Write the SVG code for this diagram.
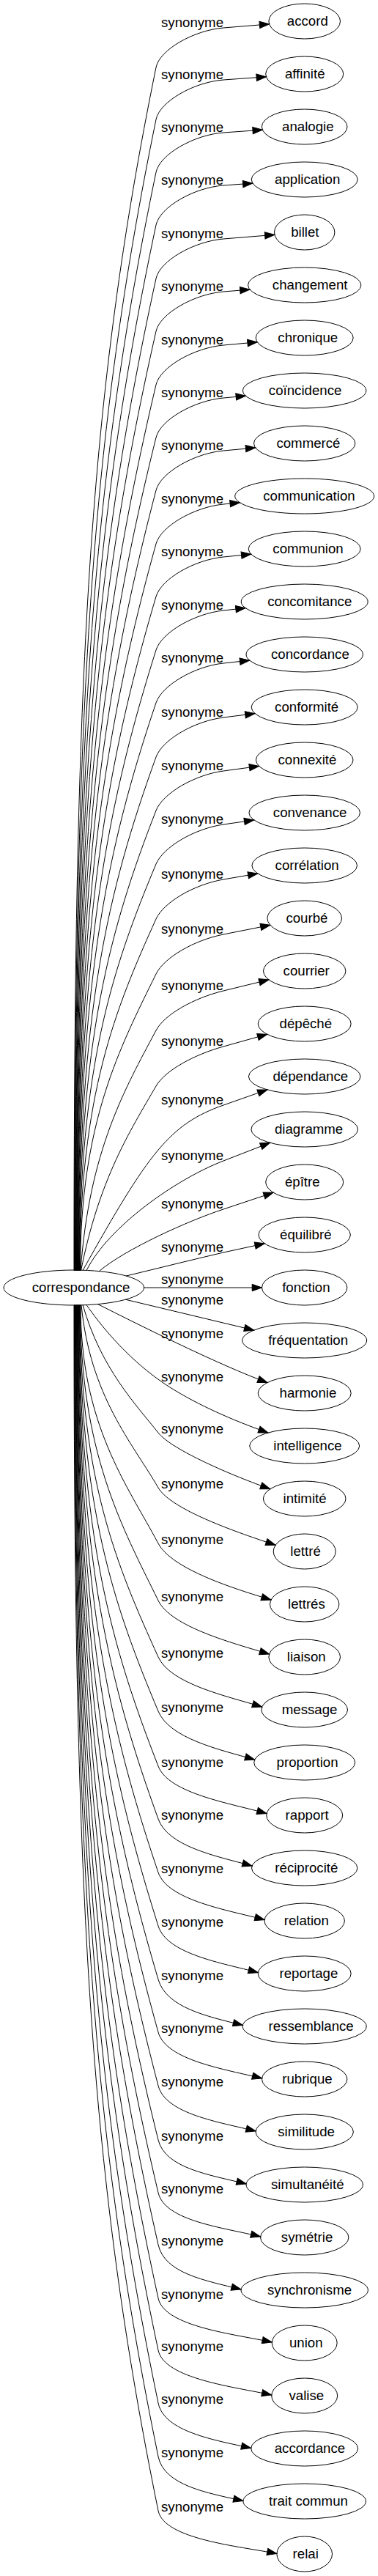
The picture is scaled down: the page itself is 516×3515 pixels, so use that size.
<svg xmlns="http://www.w3.org/2000/svg" width="516" height="3515" viewBox="0 0 516 3515">
<style>
text{font-family:"Liberation Sans",Arial,Helvetica,sans-serif;font-size:18.67px;fill:#000}
.e path{fill:none;stroke:#000;stroke-width:1;marker-end:url(#ah)}
.n ellipse{fill:none;stroke:#000;stroke-width:1}
</style>
<defs>
<marker id="ah" markerUnits="userSpaceOnUse" markerWidth="16" markerHeight="12" refX="13.3" refY="4.67" orient="auto" overflow="visible">
<path d="M0,0 L13.3,4.67 L0,9.33 Z" fill="#000" stroke="#000" stroke-width="1"/>
</marker>
</defs>
<rect x="0" y="0" width="516" height="3515" fill="#fff"/>
<g id="edges" class="e">
<g id="e-accord"><path d="M101,1734 C101,913 121,542.6 213,92 C218,67.5 265,41.3 305,38 L367.6,32.9"/><text x="220" y="37">synonyme</text></g>
<g id="e-affinite"><path d="M101.5,1734 C101.5,948.5 124.7,593.9 213,163 C218,138.5 265,111.9 305,109 L363.4,104.8"/><text x="220" y="108">synonyme</text></g>
<g id="e-analogie"><path d="M102,1734 C102,984.5 127.7,645.9 213,235 C218.1,210.5 265,183.9 305,181 L358.3,177.2"/><text x="220" y="180">synonyme</text></g>
<g id="e-application"><path d="M102.5,1734 C102.5,1020.5 130.1,697.9 213,307 C218.2,282.5 265,255.9 305,253 L344.9,250.1"/><text x="220" y="252">synonyme</text></g>
<g id="e-billet"><path d="M103,1734 C103,1057 132.1,750.4 213,380 C218.3,355.6 265,329.3 305,326 L374.9,320.3"/><text x="220" y="325">synonyme</text></g>
<g id="e-changement"><path d="M103.5,1734 C103.5,1093 133.7,802.1 213,452 C218.5,427.6 265,401.3 305,398 L341,395.1"/><text x="220" y="397">synonyme</text></g>
<g id="e-chronique"><path d="M104,1734 C104,1129.5 135.2,854.4 213,525 C218.7,500.7 265,474.6 305,471 L351.2,466.8"/><text x="220" y="470">synonyme</text></g>
<g id="e-coincidence"><path d="M104.5,1734 C104.5,1165.5 136.4,906 213,597 C219,572.7 265,546.6 305,543 L335.4,540.2"/><text x="220" y="542">synonyme</text></g>
<g id="e-commerce"><path d="M105,1734 C105,1201.5 137.5,957.5 213,669 C219.3,644.8 265,618.6 305,615 L348.7,611"/><text x="220" y="614">synonyme</text></g>
<g id="e-communication"><path d="M105.5,1734 C105.5,1238 138.7,1009.7 213,742 C219.7,717.9 265,692 305,688 L327.3,685.8"/><text x="220" y="687">synonyme</text></g>
<g id="e-communion"><path d="M106,1734 C106,1274 140.1,1061.1 213,814 C220.1,790 265,764 305,760 L342.8,756.2"/><text x="220" y="759">synonyme</text></g>
<g id="e-concomitance"><path d="M106.5,1734 C106.5,1310.5 141.7,1113.2 213,887 C220.5,863.2 265,837.3 305,833 L335.1,829.7"/><text x="220" y="832">synonyme</text></g>
<g id="e-concordance"><path d="M107,1734 C107,1346.5 143.6,1164.6 213,959 C221,935.3 265,909.3 305,905 L340.7,901.1"/><text x="220" y="904">synonyme</text></g>
<g id="e-conformite"><path d="M107.5,1734 C107.5,1383.5 146.2,1217.6 213,1033 C221.5,1009.5 265,984.1 305,979 L348,973.6"/><text x="220" y="978">synonyme</text></g>
<g id="e-connexite"><path d="M108,1734 C108,1420 149.2,1269.8 213,1106 C222.1,1082.7 265,1057.4 305,1052 L353.6,1045.4"/><text x="220" y="1051">synonyme</text></g>
<g id="e-convenance"><path d="M108.5,1734 C108.5,1456.5 152.9,1322.3 213,1179 C222.7,1156 265,1130.8 305,1125 L346.7,1119"/><text x="220" y="1124">synonyme</text></g>
<g id="e-correlation"><path d="M109,1734 C109,1494 157.5,1376.4 213,1254 C223.3,1231.2 265,1206.9 305,1200 L351.8,1192"/><text x="220" y="1199">synonyme</text></g>
<g id="e-courbe"><path d="M109.5,1734 C109.5,1531.5 163.1,1430.8 213,1329 C224,1306.6 265,1282.9 305,1275 L368.9,1262.3"/><text x="220" y="1274">synonyme</text></g>
<g id="e-courrier"><path d="M110,1734 C122,1570 169.9,1487.1 213,1406 C224.7,1383.9 265,1361.8 305,1352 L366.9,1336.9"/><text x="220" y="1351">synonyme</text></g>
<g id="e-depeche"><path d="M110.5,1734 C135.5,1608 177.7,1543.1 213,1482 C225.5,1460.4 265,1439.2 305,1428 L364.7,1411.3"/><text x="220" y="1427">synonyme</text></g>
<g id="e-dependance"><path d="M113,1733.5 C203,1572.6 231.6,1533.8 305,1508 L364.9,1486.9"/><text x="220" y="1507">synonyme</text></g>
<g id="e-diagramme"><path d="M118,1733.7 C148,1673.7 239.8,1609.3 305,1584 L368.6,1559.3"/><text x="220" y="1583">synonyme</text></g>
<g id="e-epitre"><path d="M135,1734.9 C170,1704.9 257.5,1665.5 305,1650 L373.1,1627.3"/><text x="220" y="1649">synonyme</text></g>
<g id="e-equilibre"><path d="M172,1741.1 C216,1730.5 262,1719 305,1709 L361.2,1696.8"/><text x="220" y="1708">synonyme</text></g>
<g id="e-fonction"><path d="M196.7,1757 L357.5,1757"/><text x="220" y="1752">synonyme</text></g>
<g id="e-frequentation"><path d="M171.7,1773.3 L346.7,1815.1"/><text x="220" y="1780">synonyme</text></g>
<g id="e-harmonie"><path d="M133,1779.3 C190,1808 300,1863 365,1886.6"/><text x="220" y="1826">synonyme</text></g>
<g id="e-intelligence"><path d="M118,1780.5 C135,1805 170,1850 220,1885 C250,1906 300,1932 366,1955"/><text x="220" y="1885">synonyme</text></g>
<g id="e-intimite"><path d="M113,1780.5 C138,1867.8 185.7,1916.6 216,1955 C234.6,1978.6 318.8,2014.2 368.8,2031.7"/><text x="220" y="1956">synonyme</text></g>
<g id="e-lettre"><path d="M111,1780.5 C123,1905.3 181.1,1969.5 216,2030 C233.5,2060.3 326.1,2091.8 376.1,2108.3"/><text x="220" y="2031">synonyme</text></g>
<g id="e-lettres"><path d="M110,1780.5 C110,1943.3 173.2,2025.5 216,2106 C234.8,2141.3 320,2168 370,2183"/><text x="220" y="2107">synonyme</text></g>
<g id="e-liaison"><path d="M109.5,1780.5 C109.5,1982.3 166.3,2082.5 216,2184 C233.6,2219.9 317.6,2242 367.6,2257"/><text x="220" y="2185">synonyme</text></g>
<g id="e-message"><path d="M109,1780.5 C109,2020.8 160.5,2138.5 216,2261 C232.5,2297.4 307.7,2314 357.7,2329"/><text x="220" y="2262">synonyme</text></g>
<g id="e-proportion"><path d="M108.5,1780.5 C108.5,2057.8 155.9,2191.8 216,2335 C231.5,2371.9 297.7,2387 347.7,2401"/><text x="220" y="2336">synonyme</text></g>
<g id="e-rapport"><path d="M108,1780.5 C108,2095.3 152,2245.7 216,2410 C230.5,2447.3 314,2460.5 364,2474.5"/><text x="220" y="2411">synonyme</text></g>
<g id="e-reciprocite"><path d="M107.5,1780.5 C107.5,2131.3 149.1,2297.3 216,2482 C229.6,2519.6 294.1,2532.5 344.1,2546"/><text x="220" y="2483">synonyme</text></g>
<g id="e-relation"><path d="M107,1780.5 C107,2167.8 146.7,2349.5 216,2555 C228.8,2592.9 311.1,2606.5 361.1,2619.5"/><text x="220" y="2556">synonyme</text></g>
<g id="e-reportage"><path d="M106.5,1780.5 C106.5,2204.3 144.7,2401.7 216,2628 C228,2666.2 302.3,2678.5 352.3,2691.5"/><text x="220" y="2629">synonyme</text></g>
<g id="e-ressemblance"><path d="M106,1780.5 C106,2240.8 143,2453.8 216,2701 C227.3,2739.4 281.4,2751 331.4,2763.5"/><text x="220" y="2702">synonyme</text></g>
<g id="e-rubrique"><path d="M105.5,1780.5 C105.5,2276.8 141.7,2505.2 216,2773 C226.7,2811.5 307.6,2823.5 357.6,2836"/><text x="220" y="2774">synonyme</text></g>
<g id="e-similitude"><path d="M105,1780.5 C105,2313.3 140.5,2557.4 216,2846 C226.1,2884.7 299.1,2895.5 349.1,2908"/><text x="220" y="2847">synonyme</text></g>
<g id="e-simultaneite"><path d="M104.5,1780.5 C104.5,2350.3 139.2,2610.3 216,2920 C225.6,2958.8 286.1,2967.5 336.1,2980"/><text x="220" y="2921">synonyme</text></g>
<g id="e-symetrie"><path d="M104,1780.5 C104,2386.3 138,2661.9 216,2992 C225.2,3030.9 305.6,3039.5 355.6,3052"/><text x="220" y="2993">synonyme</text></g>
<g id="e-synchronisme"><path d="M103.5,1780.5 C103.5,2421.8 136.7,2712.8 216,3063 C224.8,3102 279.1,3111.5 329.1,3124"/><text x="220" y="3064">synonyme</text></g>
<g id="e-union"><path d="M103,1780.5 C103,2458.3 135.1,2765.2 216,3136 C224.5,3175.1 321.2,3185 371.2,3196"/><text x="220" y="3137">synonyme</text></g>
<g id="e-valise"><path d="M102.5,1780.5 C102.5,2493.8 133.1,2816.3 216,3207 C224.3,3246.1 320.7,3257 370.7,3268"/><text x="220" y="3208">synonyme</text></g>
<g id="e-accordance"><path d="M102,1780.5 C102,2529.8 130.7,2868.2 216,3279 C224.1,3318.2 292.7,3329.5 342.7,3340.5"/><text x="220" y="3280">synonyme</text></g>
<g id="e-trait-commun"><path d="M101.5,1780.5 C101.5,2566.3 127.6,2921 216,3352 C224,3391.2 281.9,3401.5 331.9,3412.5"/><text x="220" y="3353">synonyme</text></g>
<g id="e-relai"><path d="M101,1780.5 C101,2603.3 123.9,2974.5 216,3426 C224,3465.2 327.9,3474.5 377.9,3484.5"/><text x="220" y="3427">synonyme</text></g>
</g>
<g id="nodes" class="n">
<g id="n-correspondance"><ellipse cx="100.8" cy="1757" rx="95.8" ry="24"/><text x="43.7" y="1762.6">correspondance</text></g>
<g id="n-accord"><ellipse cx="415.7" cy="29" rx="48.8" ry="24"/><text x="391.8" y="34.6">accord</text></g>
<g id="n-affinite"><ellipse cx="415.7" cy="101" rx="53" ry="24"/><text x="388.9" y="106.6">affinité</text></g>
<g id="n-analogie"><ellipse cx="415.7" cy="173" rx="58.3" ry="24"/><text x="385.1" y="178.6">analogie</text></g>
<g id="n-application"><ellipse cx="415.7" cy="245" rx="72.5" ry="24"/><text x="375.1" y="250.6">application</text></g>
<g id="n-billet"><ellipse cx="415.7" cy="317" rx="41.2" ry="24"/><text x="397.2" y="322.6">billet</text></g>
<g id="n-changement"><ellipse cx="415.7" cy="389" rx="77.2" ry="24"/><text x="371.8" y="394.6">changement</text></g>
<g id="n-chronique"><ellipse cx="415.7" cy="461" rx="66.5" ry="24"/><text x="379.3" y="466.6">chronique</text></g>
<g id="n-coincidence"><ellipse cx="415.7" cy="533" rx="84.2" ry="24"/><text x="366.8" y="538.6">coïncidence</text></g>
<g id="n-commerce"><ellipse cx="415.7" cy="605" rx="69.2" ry="24"/><text x="377.4" y="610.6">commercé</text></g>
<g id="n-communication"><ellipse cx="415.7" cy="677" rx="95" ry="24"/><text x="359.2" y="682.6">communication</text></g>
<g id="n-communion"><ellipse cx="415.7" cy="749" rx="76.5" ry="24"/><text x="372.3" y="754.6">communion</text></g>
<g id="n-concomitance"><ellipse cx="415.7" cy="821" rx="86.5" ry="24"/><text x="365.2" y="826.6">concomitance</text></g>
<g id="n-concordance"><ellipse cx="415.7" cy="893" rx="79.7" ry="24"/><text x="370" y="898.6">concordance</text></g>
<g id="n-conformite"><ellipse cx="415.7" cy="965" rx="72.5" ry="24"/><text x="375.1" y="970.6">conformité</text></g>
<g id="n-connexite"><ellipse cx="415.7" cy="1037" rx="66.3" ry="24"/><text x="379.5" y="1042.6">connexité</text></g>
<g id="n-convenance"><ellipse cx="415.7" cy="1109" rx="75.8" ry="24"/><text x="372.8" y="1114.6">convenance</text></g>
<g id="n-correlation"><ellipse cx="415.7" cy="1181" rx="71.8" ry="24"/><text x="375.6" y="1186.6">corrélation</text></g>
<g id="n-courbe"><ellipse cx="415.7" cy="1253" rx="50.8" ry="24"/><text x="390.4" y="1258.6">courbé</text></g>
<g id="n-courrier"><ellipse cx="415.7" cy="1325" rx="56.2" ry="24"/><text x="386.6" y="1330.6">courrier</text></g>
<g id="n-depeche"><ellipse cx="415.7" cy="1397" rx="63.5" ry="24"/><text x="381.5" y="1402.6">dépêché</text></g>
<g id="n-dependance"><ellipse cx="415.7" cy="1469" rx="76.3" ry="24"/><text x="372.4" y="1474.6">dépendance</text></g>
<g id="n-diagramme"><ellipse cx="415.7" cy="1541" rx="72.8" ry="24"/><text x="374.9" y="1546.6">diagramme</text></g>
<g id="n-epitre"><ellipse cx="415.7" cy="1613" rx="53" ry="24"/><text x="388.9" y="1618.6">épître</text></g>
<g id="n-equilibre"><ellipse cx="415.7" cy="1685" rx="62.7" ry="24"/><text x="382" y="1690.6">équilibré</text></g>
<g id="n-fonction"><ellipse cx="415.7" cy="1757" rx="58.2" ry="24"/><text x="385.2" y="1762.6">fonction</text></g>
<g id="n-frequentation"><ellipse cx="415.7" cy="1829" rx="85" ry="24"/><text x="366.2" y="1834.6">fréquentation</text></g>
<g id="n-harmonie"><ellipse cx="415.7" cy="1901" rx="63.5" ry="24"/><text x="381.5" y="1906.6">harmonie</text></g>
<g id="n-intelligence"><ellipse cx="415.7" cy="1973" rx="75" ry="24"/><text x="373.3" y="1978.6">intelligence</text></g>
<g id="n-intimite"><ellipse cx="415.7" cy="2045" rx="56.3" ry="24"/><text x="386.5" y="2050.6">intimité</text></g>
<g id="n-lettre"><ellipse cx="415.7" cy="2117" rx="42.5" ry="24"/><text x="396.3" y="2122.6">lettré</text></g>
<g id="n-lettres"><ellipse cx="415.7" cy="2189" rx="47.2" ry="24"/><text x="393" y="2194.6">lettrés</text></g>
<g id="n-liaison"><ellipse cx="415.7" cy="2261" rx="48.8" ry="24"/><text x="391.8" y="2266.6">liaison</text></g>
<g id="n-message"><ellipse cx="415.7" cy="2333" rx="58.8" ry="24"/><text x="384.8" y="2338.6">message</text></g>
<g id="n-proportion"><ellipse cx="415.7" cy="2405" rx="69" ry="24"/><text x="377.6" y="2410.6">proportion</text></g>
<g id="n-rapport"><ellipse cx="415.7" cy="2477" rx="52" ry="24"/><text x="389.6" y="2482.6">rapport</text></g>
<g id="n-reciprocite"><ellipse cx="415.7" cy="2549" rx="72.2" ry="24"/><text x="375.3" y="2554.6">réciprocité</text></g>
<g id="n-relation"><ellipse cx="415.7" cy="2621" rx="54.7" ry="24"/><text x="387.7" y="2626.6">relation</text></g>
<g id="n-reportage"><ellipse cx="415.7" cy="2693" rx="63.5" ry="24"/><text x="381.5" y="2698.6">reportage</text></g>
<g id="n-ressemblance"><ellipse cx="415.7" cy="2765" rx="84.5" ry="24"/><text x="366.6" y="2770.6">ressemblance</text></g>
<g id="n-rubrique"><ellipse cx="415.7" cy="2837" rx="58.2" ry="24"/><text x="385.2" y="2842.6">rubrique</text></g>
<g id="n-similitude"><ellipse cx="415.7" cy="2909" rx="66.7" ry="24"/><text x="379.2" y="2914.6">similitude</text></g>
<g id="n-simultaneite"><ellipse cx="415.7" cy="2981" rx="79.7" ry="24"/><text x="370" y="2986.6">simultanéité</text></g>
<g id="n-symetrie"><ellipse cx="415.7" cy="3053" rx="60.2" ry="24"/><text x="383.8" y="3058.6">symétrie</text></g>
<g id="n-synchronisme"><ellipse cx="415.7" cy="3125" rx="86.7" ry="24"/><text x="365" y="3130.6">synchronisme</text></g>
<g id="n-union"><ellipse cx="415.7" cy="3197" rx="44.5" ry="24"/><text x="394.9" y="3202.6">union</text></g>
<g id="n-valise"><ellipse cx="415.7" cy="3269" rx="45" ry="24"/><text x="394.5" y="3274.6">valise</text></g>
<g id="n-accordance"><ellipse cx="415.7" cy="3341" rx="73" ry="24"/><text x="374.7" y="3346.6">accordance</text></g>
<g id="n-trait-commun"><ellipse cx="415.7" cy="3413" rx="83.8" ry="24"/><text x="367.1" y="3418.6">trait commun</text></g>
<g id="n-relai"><ellipse cx="415.7" cy="3485" rx="37.8" ry="24"/><text x="399.6" y="3490.6">relai</text></g>
</g>
</svg>
